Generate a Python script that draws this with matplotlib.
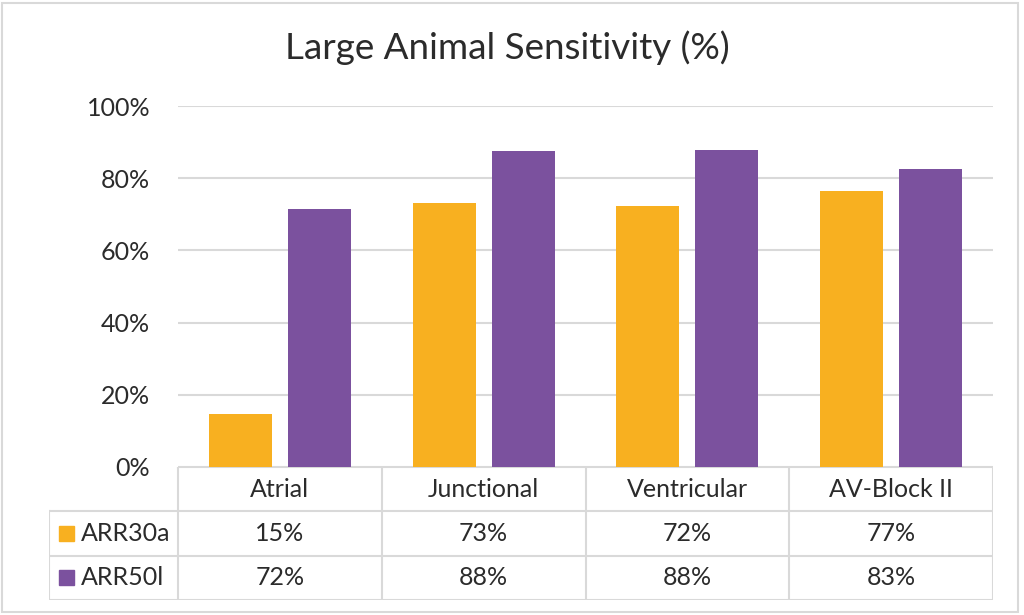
import numpy as np
import matplotlib
matplotlib.use('Agg')
import matplotlib.pyplot as plt
from matplotlib.patches import Rectangle

plt.rcParams['font.family'] = ['Lato', 'DejaVu Sans']

# Data
categories = ['Atrial', 'Junctional', 'Ventricular', 'AV-Block II']
series_names = ['ARR30a', 'ARR50l']
arr30a = [14.7, 73.2, 72.3, 76.5]
arr50l = [71.6, 87.6, 87.8, 82.5]
arr30a_labels = ['15%', '73%', '72%', '77%']
arr50l_labels = ['72%', '88%', '88%', '83%']
yticks = [0, 20, 40, 60, 80, 100]

colors = ['#F8B020', '#7B519E']
grid_col = '#D9D9D9'
text_col = '#2B2B2B'

W, H = 1024, 615
fig = plt.figure(figsize=(W / 100, H / 100), dpi=100)

# Outer chart border
fig.add_artist(Rectangle((2 / W, 3 / H), 1016 / W, 609 / H, transform=fig.transFigure,
                         fill=False, edgecolor=grid_col, lw=1.5))

# Plot area in pixel terms
left, right, top, bottom = 178, 993, 106, 467
ax = fig.add_axes([left / W, 1 - bottom / H, (right - left) / W, (bottom - top) / H])

x = np.arange(len(categories))
bw = 0.31
off = 0.194
ax.bar(x - off, arr30a, bw, color=colors[0], zorder=3)
ax.bar(x + off, arr50l, bw, color=colors[1], zorder=3)

ax.set_xlim(-0.5, len(categories) - 0.5)
ax.set_ylim(0, 100)
ax.set_yticks(yticks)
ax.set_yticklabels([f'{t}%' for t in yticks], fontsize=18, color=text_col)
ax.tick_params(axis='y', length=0, pad=20)
ax.set_xticks([])
ax.grid(axis='y', color=grid_col, lw=1.5, zorder=0)
for s in ax.spines.values():
    s.set_visible(False)

fig.text(0.495, 1 - 48 / H, 'Large Animal Sensitivity (%)', ha='center', va='center',
         fontsize=26.5, color=text_col)

# Data table below the plot
leg_left = 49
cat_w = (right - left) / len(categories)
tx0 = -0.5 - (left - leg_left) / cat_w
tab = fig.add_axes([leg_left / W, 1 - 600 / H, (right - leg_left) / W, (600 - bottom) / H])
tab.set_xlim(tx0, len(categories) - 0.5)
tab.set_ylim(3, 0)
tab.axis('off')

n = len(categories)
lk = dict(color=grid_col, lw=1.5, solid_capstyle='projecting')
tab.plot([-0.5, n - 0.5], [0, 0], **lk)
for yy in [1, 2, 3]:
    tab.plot([tx0, n - 0.5], [yy, yy], **lk)
for xx in np.arange(-0.5, n, 1.0):
    tab.plot([xx, xx], [0, 3], **lk)
tab.plot([tx0, tx0], [1, 3], **lk)

fs = 18
for i, c in enumerate(categories):
    tab.text(i, 0.5, c, ha='center', va='center', fontsize=fs, color=text_col)
    tab.text(i, 1.5, arr30a_labels[i], ha='center', va='center', fontsize=fs, color=text_col)
    tab.text(i, 2.5, arr50l_labels[i], ha='center', va='center', fontsize=fs, color=text_col)

sq = 15 / cat_w
for r, (name, col) in enumerate(zip(series_names, colors)):
    yc = 1.5 + r
    tab.add_patch(Rectangle((tx0 + 10 / cat_w, yc - 0.17), sq, 0.34, color=col))
    tab.text(tx0 + 32 / cat_w, yc, name, ha='left', va='center', fontsize=fs, color=text_col)

fig.savefig('out.png', dpi=100)
